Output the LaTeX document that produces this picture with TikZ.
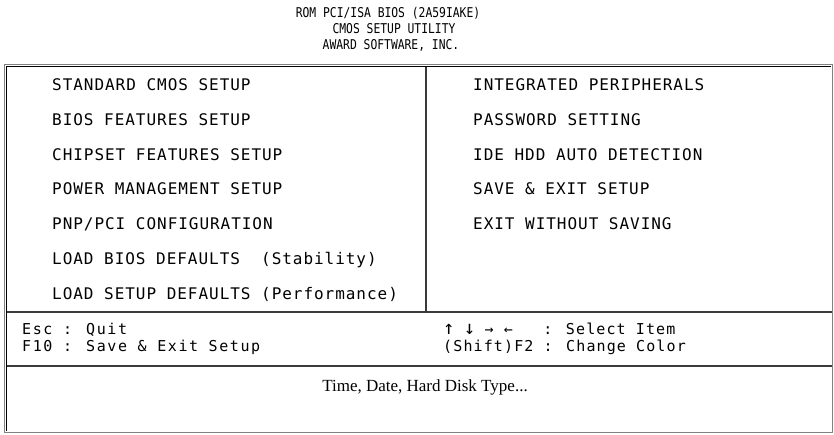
\documentclass[tikz,border=0pt]{standalone}
\usepackage{fontspec}
\newfontfamily\menufont[LetterSpace=6]{DejaVu Sans Mono}
\newfontfamily\keyfont[LetterSpace=10.5]{DejaVu Sans Mono}
\newfontfamily\navfont[LetterSpace=7.5]{DejaVu Sans Mono}
\newfontfamily\titlefont[FakeStretch=0.84]{DejaVu Sans Mono}
\newfontfamily\hintfont{Liberation Serif}
\definecolor{frameshade}{HTML}{808080}
\definecolor{rule}{HTML}{3A3A3A}
\newcommand{\tallarrow}[1]{\makebox[10.6pt][l]{\fontsize{19}{19}\selectfont #1}}
\tikzset{
  title/.style={inner sep=0pt, text height=9.5pt, text depth=0pt,
    font=\titlefont\fontsize{13.5}{13.5}\selectfont},
  menuitem/.style={anchor=west, inner sep=0pt, text height=11.6pt, text depth=0pt,
    font=\menufont\fontsize{16}{16}\selectfont},
  keyhelp/.style={anchor=west, inner sep=0pt, text height=10.9pt, text depth=0pt,
    font=\keyfont\fontsize{15}{15}\selectfont},
  navhelp/.style={keyhelp, font=\navfont\fontsize{15}{15}\selectfont},
  hint/.style={inner sep=0pt, text height=11.2pt, text depth=0pt,
    font=\hintfont\fontsize{17}{17}\selectfont},
  outerline/.style={draw=frameshade, line width=1.4pt},
  innerline/.style={draw=black, line width=1.2pt},
  divider/.style={draw=rule, line width=1.5pt},
}
\begin{document}
\begin{tikzpicture}[x=1pt, y=-1pt]
\useasboundingbox (0,0) rectangle (834,435);

% heading
\node[title] (t1) at (388,13) {ROM PCI/ISA BIOS (2A59IAKE)};
\node[title] (t2) at (394,29) {CMOS SETUP UTILITY};
\node[title] (t3) at (391,45) {AWARD SOFTWARE, INC.};

% frame corners
\coordinate (otl) at (4.5,64.5);
\coordinate (otr) at (832.5,64.5);
\coordinate (obl) at (4.5,432.5);
\coordinate (obr) at (832.5,432.5);
\coordinate (itl) at (6.8,66.8);
\coordinate (itr) at (831,66.8);
\coordinate (ibl) at (6.8,431);

% outer shaded frame and inner dark top/left edge
\draw[outerline] (obl) -- (otl) -- (otr) -- (obr) -- cycle;
\draw[innerline] (ibl) -- (itl) -- (itr);

% dividers
\coordinate (d1l) at (7,312);
\coordinate (d1r) at (832,312);
\coordinate (d2l) at (7,366);
\coordinate (d2r) at (832,366);
\coordinate (vt) at (426,67);
\coordinate (vb) at (426,312);
\draw[divider] (d1l) -- (d1r);
\draw[divider] (d2l) -- (d2r);
\draw[divider] (vt) -- (vb);

% left menu column
\node[menuitem] (m1) at (52,85.0)  {STANDARD CMOS SETUP};
\node[menuitem] (m2) at (52,119.7) {BIOS FEATURES SETUP};
\node[menuitem] (m3) at (52,154.4) {CHIPSET FEATURES SETUP};
\node[menuitem] (m4) at (52,189.1) {POWER MANAGEMENT SETUP};
\node[menuitem] (m5) at (52,223.8) {PNP/PCI CONFIGURATION};
\node[menuitem] (m6) at (52,258.5) {LOAD BIOS DEFAULTS\ \ (Stability)};
\node[menuitem] (m7) at (52,293.2) {LOAD SETUP DEFAULTS (Performance)};

% right menu column
\node[menuitem] (r1) at (473,85.0)  {INTEGRATED PERIPHERALS};
\node[menuitem] (r2) at (473,119.7) {PASSWORD SETTING};
\node[menuitem] (r3) at (473,154.4) {IDE HDD AUTO DETECTION};
\node[menuitem] (r4) at (473,189.1) {SAVE \& EXIT SETUP};
\node[menuitem] (r5) at (473,223.8) {EXIT WITHOUT SAVING};

% key help
\node[keyhelp] (k1) at (22,329) {Esc : Quit};
\node[keyhelp] (k2) at (22,346) {F10 : Save \& Exit Setup};
\node[navhelp] (k3) at (443,329) {\tallarrow{↑}\ \tallarrow{↓}\ → ←\ \ \ : Select Item};
\node[navhelp] (k4) at (443,346) {(Shift)F2 : Change Color};

% status line
\node[hint] (h) at (425,386) {Time, Date, Hard Disk Type...};
\end{tikzpicture}
\end{document}
